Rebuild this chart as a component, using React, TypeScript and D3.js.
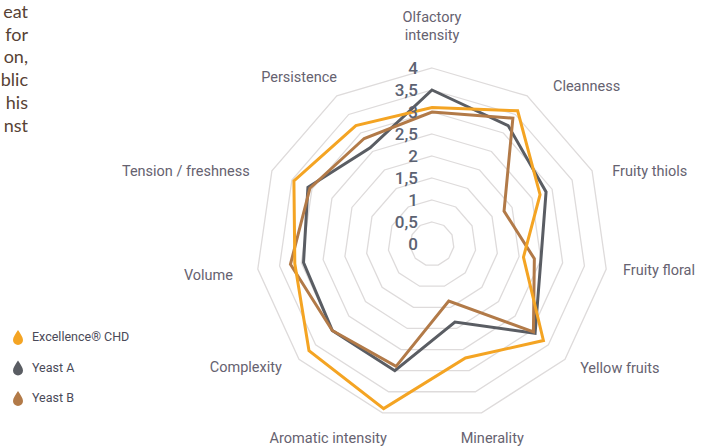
import React from "react";
import * as d3 from "d3";

// axes, clockwise from the top
const categories = [
  "Olfactory intensity",
  "Cleanness",
  "Fruity thiols",
  "Fruity floral",
  "Yellow fruits",
  "Minerality",
  "Aromatic intensity",
  "Complexity",
  "Volume",
  "Tension / freshness",
  "Persistence",
];

const excellence = [3.1, 3.6, 2.7, 2.1, 3.35, 2.7, 3.9, 3.7, 3.15, 3.45, 3.2];
const yeastA = [3.5, 3.2, 2.85, 2.5, 3.1, 1.85, 3.0, 3.0, 2.95, 3.1, 2.6];
const yeastB = [3.0, 3.4, 1.8, 2.35, 3.05, 1.35, 2.9, 3.0, 3.25, 3.05, 2.85];

const seriesNames = ["Excellence® CHD", "Yeast A", "Yeast B"];
const levels = [0, 0.5, 1, 1.5, 2, 2.5, 3, 3.5, 4];
const levelLabels = ["0", "0,5", "1", "1,5", "2", "2,5", "3", "3,5", "4"];

// cut-off paragraph at the left edge
const paraLines = ["eat", "for", "on,", "blic", "his", "nst"];

// label layout (anchor + nudge from the point just outside the outer ring)
const labelLayout = [
  { anchor: "middle", dx: 0, dy: 0 },
  { anchor: "start", dx: 15, dy: 12 },
  { anchor: "start", dx: 2, dy: 13 },
  { anchor: "start", dx: -3, dy: 3 },
  { anchor: "start", dx: 0, dy: 1 },
  { anchor: "middle", dx: 5, dy: 11 },
  { anchor: "end", dx: 10, dy: 11 },
  { anchor: "end", dx: -2, dy: 0 },
  { anchor: "end", dx: -5, dy: 8 },
  { anchor: "end", dx: -4, dy: 13 },
  { anchor: "end", dx: 11, dy: 3 },
];

const W = 714;
const H = 448;
const cx = 432;
const cy = 244;
const colors = ["#F4A423", "#5A5D63", "#B27A48"];

const drop = "M0,-7 C2.5,-3 5,0 5,3 A5,5 0 0 1 -5,3 C-5,0 -2.5,-3 0,-7Z";

export default function App() {
  const n = categories.length;
  const angle = d3.scaleLinear().domain([0, n]).range([0, 2 * Math.PI]);
  const r = d3.scaleLinear().domain([0, 4]).range([0, 176]);

  const pt = (i: number, v: number): [number, number] => [
    cx + r(v) * Math.sin(angle(i)),
    cy - r(v) * Math.cos(angle(i)),
  ];

  const ring = (v: number) =>
    d3.line().curve(d3.curveLinearClosed)(d3.range(n).map((i) => pt(i, v)));

  const radial = d3
    .lineRadial<number>()
    .angle((_, i) => angle(i))
    .radius((d) => r(d))
    .curve(d3.curveLinearClosed);

  const data = [excellence, yeastA, yeastB];
  const drawOrder = [1, 2, 0];

  return (
    <svg
      width={W}
      height={H}
      style={{ position: "absolute", left: 0, top: 0, display: "block", background: "#fff" }}
    >
      {/* paragraph fragment */}
      <g fontFamily="Lato, 'Open Sans', sans-serif" fontSize={18} fill="#574235">
        {paraLines.map((t, i) => (
          <text key={t} x={28} y={18 + i * 22.7} textAnchor="end">
            {t}
          </text>
        ))}
      </g>

      {/* grid */}
      <g fill="none" stroke="#dedbdb" strokeWidth={1.3}>
        {levels.slice(1).map((v) => (
          <path key={v} d={ring(v) || ""} />
        ))}
      </g>

      {/* series */}
      <g transform={`translate(${cx},${cy})`} fill="none" strokeWidth={3} strokeLinejoin="miter">
        {drawOrder.map((k) => (
          <path key={k} d={radial(data[k]) || ""} stroke={colors[k]} />
        ))}
      </g>

      {/* scale labels */}
      <g
        fontFamily="Roboto, sans-serif"
        fontWeight={500}
        fontSize={17}
        fill="#5c6272"
        textAnchor="end"
      >
        {levels.map((v, i) => (
          <text key={v} x={cx - 14} y={cy - r(v)} dy="0.36em">
            {levelLabels[i]}
          </text>
        ))}
      </g>

      {/* axis labels */}
      <g fontFamily="Roboto, sans-serif" fontSize={14.5} fill="#666270">
        {categories.map((c, i) => {
          const [x, y] = pt(i, 4);
          const ox = cx + (x - cx) * (196 / 176);
          const oy = cy + (y - cy) * (196 / 176);
          const L = labelLayout[i];
          if (i === 0) {
            const words = c.split(" ");
            return (
              <text key={c} x={ox} y={oy} textAnchor="middle">
                <tspan x={ox} dy={-26}>{words[0]}</tspan>
                <tspan x={ox} dy={18}>{words[1]}</tspan>
              </text>
            );
          }
          return (
            <text key={c} x={ox + L.dx} y={oy + L.dy} textAnchor={L.anchor}>
              {c}
            </text>
          );
        })}
      </g>

      {/* legend */}
      <g fontFamily="Roboto, sans-serif" fontSize={12.5} fill="#4a4a58">
        {seriesNames.map((s, i) => (
          <g key={s} transform={`translate(18,${337 + i * 30.5})`}>
            <path d={drop} fill={colors[i]} />
            <text x={14} y={0} dy="0.35em">
              {s}
            </text>
          </g>
        ))}
      </g>
    </svg>
  );
}
